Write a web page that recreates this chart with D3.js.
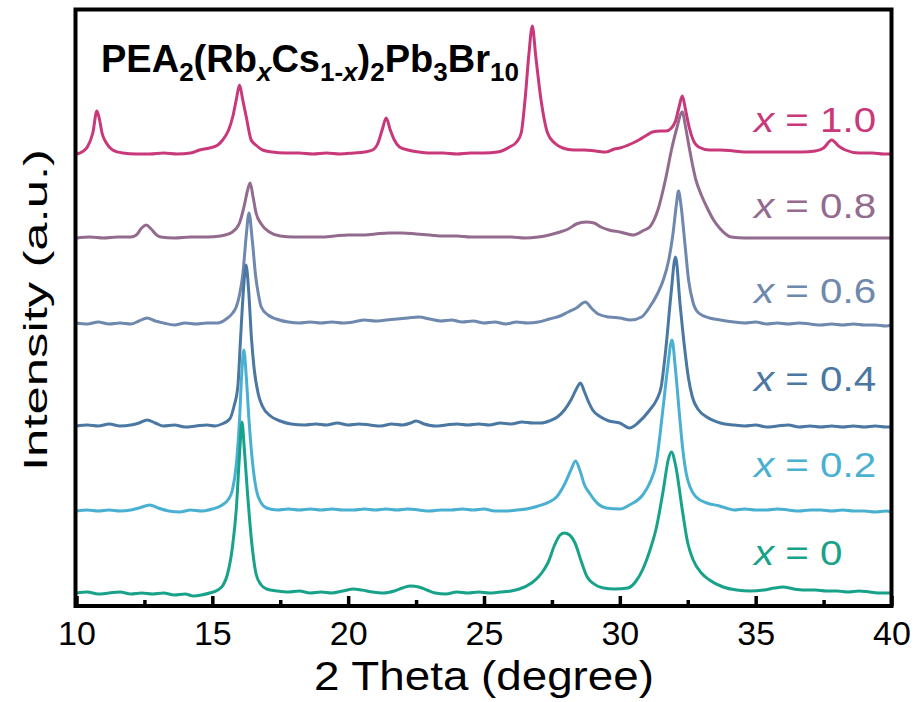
<html>

<head>
    <script src="https://d3js.org/d3.v7.min.js"></script>
    <style>
        body { margin: 0; background: #fff; }
        text { font-family: "Liberation Sans", Arial, sans-serif; }
    </style>
</head>

<body></body>
<script>

    // XRD patterns, [2 theta (deg), intensity (a.u., offset stacked)]
    var rb10 = [[10.0,451],[10.2,453],[10.4,458],[10.6,472],[10.75,494],[10.85,485],[10.94,472],[11.1,462],[11.33,455],[11.7,452],[12.2,451],[12.7,451],[13.2,452],[13.7,451],[14.2,452],[14.53,455],[14.9,457],[15.2,460],[15.38,465],[15.6,475],[15.75,488],[15.88,505],[16.0,520],[16.12,505],[16.25,488],[16.43,465],[16.6,460],[16.85,455],[17.2,453],[17.7,452],[18.2,452],[18.7,451],[19.2,452],[19.7,451],[20.2,452],[20.6,453],[20.9,455],[21.1,462],[21.25,475],[21.4,487],[21.55,475],[21.7,465],[21.89,458],[22.2,455],[22.6,453],[23.0,452],[23.5,452],[24.0,451],[24.5,452],[25.0,452],[25.5,453],[25.94,458],[26.2,463],[26.37,472],[26.51,505],[26.65,550],[26.78,579],[26.9,550],[27.1,505],[27.34,472],[27.6,462],[27.9,457],[28.3,455],[28.7,455],[29.1,454],[29.5,453],[29.8,456],[30.0,457],[30.4,461],[30.7,465],[31.0,470],[31.2,473],[31.5,474],[31.7,474],[31.9,477],[32.05,484],[32.18,498],[32.3,509],[32.42,495],[32.55,478],[32.7,465],[32.9,458],[33.3,455],[33.7,455],[34.2,454],[34.7,453],[35.2,453],[35.7,453],[36.2,453],[36.7,453],[37.2,454],[37.5,457],[37.8,465],[38.05,459],[38.3,455],[38.8,452],[39.3,452],[39.7,451],[40.0,451]];

    var rb08 = [[10.0,367],[10.5,368],[11.0,367],[11.5,368],[12.0,368],[12.2,370],[12.4,377],[12.56,380],[12.75,376],[12.95,370],[13.1,368],[13.6,367],[14.2,368],[14.8,368],[15.3,369],[15.74,373],[16.0,382],[16.18,400],[16.3,415],[16.39,422],[16.5,408],[16.61,392],[16.8,381],[17.1,373],[17.5,369],[18.0,368],[18.5,368],[19.0,368],[19.5,369],[20.0,370],[20.5,370],[21.0,371],[21.5,372],[22.0,372],[22.5,371],[23.0,370],[23.5,369],[24.0,369],[24.5,368],[25.0,368],[25.5,368],[26.0,368],[26.5,367],[27.0,368],[27.4,370],[27.8,373],[28.1,376],[28.4,381],[28.75,383],[29.05,382],[29.3,378],[29.6,375],[30.0,373],[30.5,370],[30.9,375],[31.1,378],[31.4,395],[31.7,428],[31.9,455],[32.08,475],[32.3,493],[32.42,478],[32.55,458],[32.8,425],[33.0,410],[33.2,398],[33.45,385],[33.67,377],[34.1,368],[34.6,367],[35.2,367],[35.8,367],[36.4,367],[37.0,367],[37.6,367],[38.2,367],[38.8,367],[39.4,367],[40.0,367]];

    var rb06 = [[10.0,282],[10.4,281],[10.8,283],[11.2,281],[11.6,282],[12.0,281],[12.3,284],[12.6,287],[12.9,284],[13.2,282],[13.6,280],[14.0,282],[14.4,281],[14.8,282],[15.2,282],[15.51,286],[15.75,292],[15.88,298],[16.0,310],[16.12,330],[16.25,370],[16.35,392],[16.47,365],[16.59,330],[16.7,310],[16.8,298],[17.05,290],[17.35,286],[17.8,283],[18.2,282],[18.6,283],[19.0,282],[19.4,283],[19.8,282],[20.2,283],[20.6,285],[21.0,284],[21.4,285],[21.8,286],[22.2,287],[22.6,288],[23.0,286],[23.4,284],[23.8,285],[24.2,283],[24.6,284],[25.0,282],[25.4,283],[25.8,281],[26.2,283],[26.6,282],[27.0,283],[27.4,286],[27.8,289],[28.1,293],[28.4,297],[28.73,303],[28.95,297],[29.2,291],[29.6,288],[30.0,287],[30.4,285],[30.8,288],[31.1,298],[31.4,312],[31.6,325],[31.8,345],[31.95,370],[32.08,400],[32.16,414],[32.25,400],[32.4,360],[32.53,325],[32.7,302],[32.9,292],[33.3,287],[33.7,285],[34.2,283],[34.6,282],[35.0,283],[35.4,281],[35.8,282],[36.2,281],[36.6,282],[37.0,281],[37.4,280],[37.8,281],[38.2,280],[38.6,281],[39.0,280],[39.4,280],[39.8,279],[40.0,280]];

    var rb04 = [[10.0,179],[10.4,180],[10.8,179],[11.2,181],[11.6,179],[12.0,180],[12.3,182],[12.6,185],[12.9,182],[13.2,179],[13.6,180],[14.0,178],[14.4,179],[14.8,180],[15.1,179],[15.35,181],[15.64,186],[15.8,199],[15.94,219],[16.04,267],[16.14,313],[16.24,340],[16.34,313],[16.44,267],[16.54,236],[16.69,211],[16.84,199],[17.14,189],[17.5,184],[17.9,181],[18.4,180],[18.8,181],[19.2,180],[19.6,182],[20.0,180],[20.4,181],[20.8,180],[21.2,179],[21.6,181],[22.0,180],[22.3,182],[22.5,184],[22.8,181],[23.2,179],[23.6,180],[24.0,181],[24.4,180],[24.8,181],[25.2,180],[25.6,182],[26.0,181],[26.4,183],[26.8,182],[27.1,182],[27.4,184],[27.7,188],[27.96,195],[28.2,205],[28.4,216],[28.55,222],[28.7,213],[28.85,203],[29.0,195],[29.3,188],[29.6,184],[30.0,182],[30.35,177],[30.7,183],[31.1,195],[31.35,205],[31.52,218],[31.7,258],[31.88,310],[32.05,348],[32.22,300],[32.38,258],[32.52,228],[32.67,208],[32.9,195],[33.2,188],[33.7,182],[34.2,180],[34.6,179],[35.0,180],[35.4,178],[35.8,179],[36.2,180],[36.6,178],[37.0,179],[37.4,178],[37.8,179],[38.2,178],[38.6,179],[39.0,178],[39.4,179],[39.8,178],[40.0,178]];

    var rb02 = [[10.0,94],[10.4,95],[10.8,94],[11.2,95],[11.6,94],[12.0,95],[12.3,97],[12.7,100],[13.0,97],[13.4,94],[13.8,93],[14.2,95],[14.6,94],[15.0,96],[15.3,99],[15.6,106],[15.74,115],[15.88,140],[16.0,185],[16.08,230],[16.16,255],[16.25,228],[16.35,185],[16.47,145],[16.62,115],[16.8,102],[17.0,97],[17.4,95],[17.8,96],[18.2,95],[18.6,96],[19.0,95],[19.4,96],[19.8,95],[20.2,95],[20.6,96],[21.0,95],[21.4,96],[21.8,95],[22.2,96],[22.6,95],[23.0,94],[23.4,95],[23.8,95],[24.2,96],[24.6,95],[25.0,96],[25.4,94],[25.8,94],[26.2,95],[26.56,96],[27.0,99],[27.4,103],[27.67,108],[27.95,120],[28.2,135],[28.37,144],[28.55,133],[28.7,120],[28.88,112],[29.2,101],[29.5,97],[30.0,96],[30.35,100],[30.84,110],[31.1,122],[31.34,142],[31.57,192],[31.75,235],[31.92,265],[32.05,235],[32.19,192],[32.32,155],[32.44,132],[32.6,117],[32.81,108],[33.2,102],[33.67,99],[33.9,97],[34.2,95],[34.6,96],[35.0,95],[35.4,95],[35.8,96],[36.2,95],[36.6,94],[37.0,95],[37.4,95],[37.8,94],[38.2,95],[38.6,94],[39.0,94],[39.4,93],[39.8,94],[40.0,93]];

    var rb00 = [[10.0,12],[10.4,13],[10.8,11],[11.2,12],[11.6,13],[12.0,11],[12.4,12],[12.8,11],[13.2,12],[13.6,10],[14.0,11],[14.3,9],[14.6,10],[14.9,12],[15.2,15],[15.4,20],[15.55,30],[15.74,58],[15.88,95],[16.0,150],[16.09,183],[16.18,155],[16.3,110],[16.44,65],[16.62,30],[16.8,20],[17.0,16],[17.4,14],[17.8,13],[18.2,14],[18.6,12],[19.0,13],[19.4,12],[19.8,14],[20.2,16],[20.5,15],[20.9,13],[21.3,12],[21.7,14],[22.0,17],[22.3,19],[22.6,18],[22.9,15],[23.2,12],[23.6,11],[24.0,13],[24.4,12],[24.8,13],[25.2,12],[25.6,13],[26.0,14],[26.3,16],[26.75,22],[27.0,28],[27.2,35],[27.35,42],[27.6,60],[27.8,70],[27.96,72],[28.15,70],[28.35,62],[28.6,42],[28.8,28],[29.0,22],[29.4,17],[29.8,16],[30.3,17],[30.6,24],[30.85,36],[31.1,54],[31.35,78],[31.6,115],[31.78,145],[31.9,153],[32.05,140],[32.3,95],[32.5,62],[32.7,45],[33.0,32],[33.3,25],[33.8,18],[34.3,15],[34.8,14],[35.3,15],[35.7,17],[36.0,18],[36.4,16],[36.8,15],[37.2,15],[37.6,14],[38.0,14],[38.4,13],[38.8,14],[39.2,13],[39.6,12],[40.0,12]];

    var series = [rb10, rb08, rb06, rb04, rb02, rb00];
    var compositions = ["1.0", "0.8", "0.6", "0.4", "0.2", "0"];
    var xTicks = [10, 15, 20, 25, 30, 35, 40];
    var xMinorTicks = [12.5, 17.5, 22.5, 27.5, 32.5, 37.5];

    // colours, top to bottom
    var palette = ["#c9387a", "#936b8f", "#6e88ae", "#4a78a2", "#4ab0d2", "#18a28a"];
    // label baselines (px)
    var labelY = [132, 218, 303, 391, 477, 565];

    var svg = d3.select("body")
        .append("svg")
        .attr("width", 919)
        .attr("height", 702);

    var x = d3.scaleLinear().domain([10, 40]).range([76.5, 891.5]);
    var y = d3.scaleLinear().domain([0, 596]).range([605, 9]);

    var line = d3.line()
        .x(d => x(d[0]))
        .y(d => y(d[1]))
        .curve(d3.curveMonotoneX);

    // curves (bottom pattern drawn last)
    svg.append("g")
        .selectAll("path")
        .data(series)
        .enter()
        .append("path")
        .attr("d", line)
        .attr("fill", "none")
        .attr("stroke", (d, i) => palette[i])
        .attr("stroke-width", 3)
        .attr("stroke-linejoin", "round");

    // composition labels
    compositions.forEach(function (c, i) {
        var t = svg.append("text")
            .attr("transform", "translate(754," + labelY[i] + ") scale(1.12,1)")
            .attr("font-size", 36)
            .attr("fill", palette[i]);
        t.append("tspan").attr("font-style", "italic").text("x");
        t.append("tspan").text(" = " + c);
    });

    // x axis, ticks pointing inward
    var axisY = 606;
    var gx = svg.append("g")
        .attr("transform", "translate(0," + axisY + ")")
        .call(d3.axisBottom(x).tickValues(xTicks).tickSize(-10).tickPadding(15).tickFormat(d3.format("d")));
    gx.select(".domain").remove();
    gx.selectAll("line").attr("stroke", "#000").attr("stroke-width", 3.5);
    gx.selectAll("text")
        .attr("font-size", 34)
        .attr("fill", "#000")
        .style("font-family", "'Liberation Sans', Arial, sans-serif");

    var gm = svg.append("g")
        .attr("transform", "translate(0," + axisY + ")")
        .call(d3.axisBottom(x).tickValues(xMinorTicks).tickSize(-6).tickFormat(""));
    gm.select(".domain").remove();
    gm.selectAll("line").attr("stroke", "#000").attr("stroke-width", 3.5);

    // frame
    svg.append("rect")
        .attr("x", x(10) - 1)
        .attr("y", 9.5)
        .attr("width", x(40) - x(10) + 1)
        .attr("height", axisY - 9.5)
        .attr("fill", "none")
        .attr("stroke", "#000")
        .attr("stroke-width", 4);

    // axis titles
    svg.append("text")
        .attr("x", 484)
        .attr("y", 690)
        .attr("text-anchor", "middle")
        .attr("font-size", 40)
        .attr("textLength", 340)
        .attr("lengthAdjust", "spacingAndGlyphs")
        .text("2 Theta (degree)");

    svg.append("text")
        .attr("transform", "translate(47,310) rotate(-90)")
        .attr("text-anchor", "middle")
        .attr("font-size", 34)
        .attr("textLength", 322)
        .attr("lengthAdjust", "spacingAndGlyphs")
        .text("Intensity (a.u.)");

    // formula
    var title = svg.append("text")
        .attr("x", 101)
        .attr("y", 72)
        .attr("font-size", 38)
        .attr("font-weight", "bold");
    var parts = [
        ["PEA", 0], ["2", 1], ["(Rb", 0], ["x", 2], ["Cs", 0], ["1-", 1], ["x", 3],
        [")", 0], ["2", 1], ["Pb", 0], ["3", 1], ["Br", 0], ["10", 1]
    ];
    var shift = 0;
    parts.forEach(function (p) {
        var sub = p[1] > 0;
        var dy = (sub ? 9 : 0) - shift;
        shift = sub ? 9 : 0;
        title.append("tspan")
            .attr("dy", dy)
            .attr("font-size", sub ? 26 : 38)
            .attr("font-style", p[1] >= 2 ? "italic" : "normal")
            .text(p[0]);
    });

</script>

</html>
